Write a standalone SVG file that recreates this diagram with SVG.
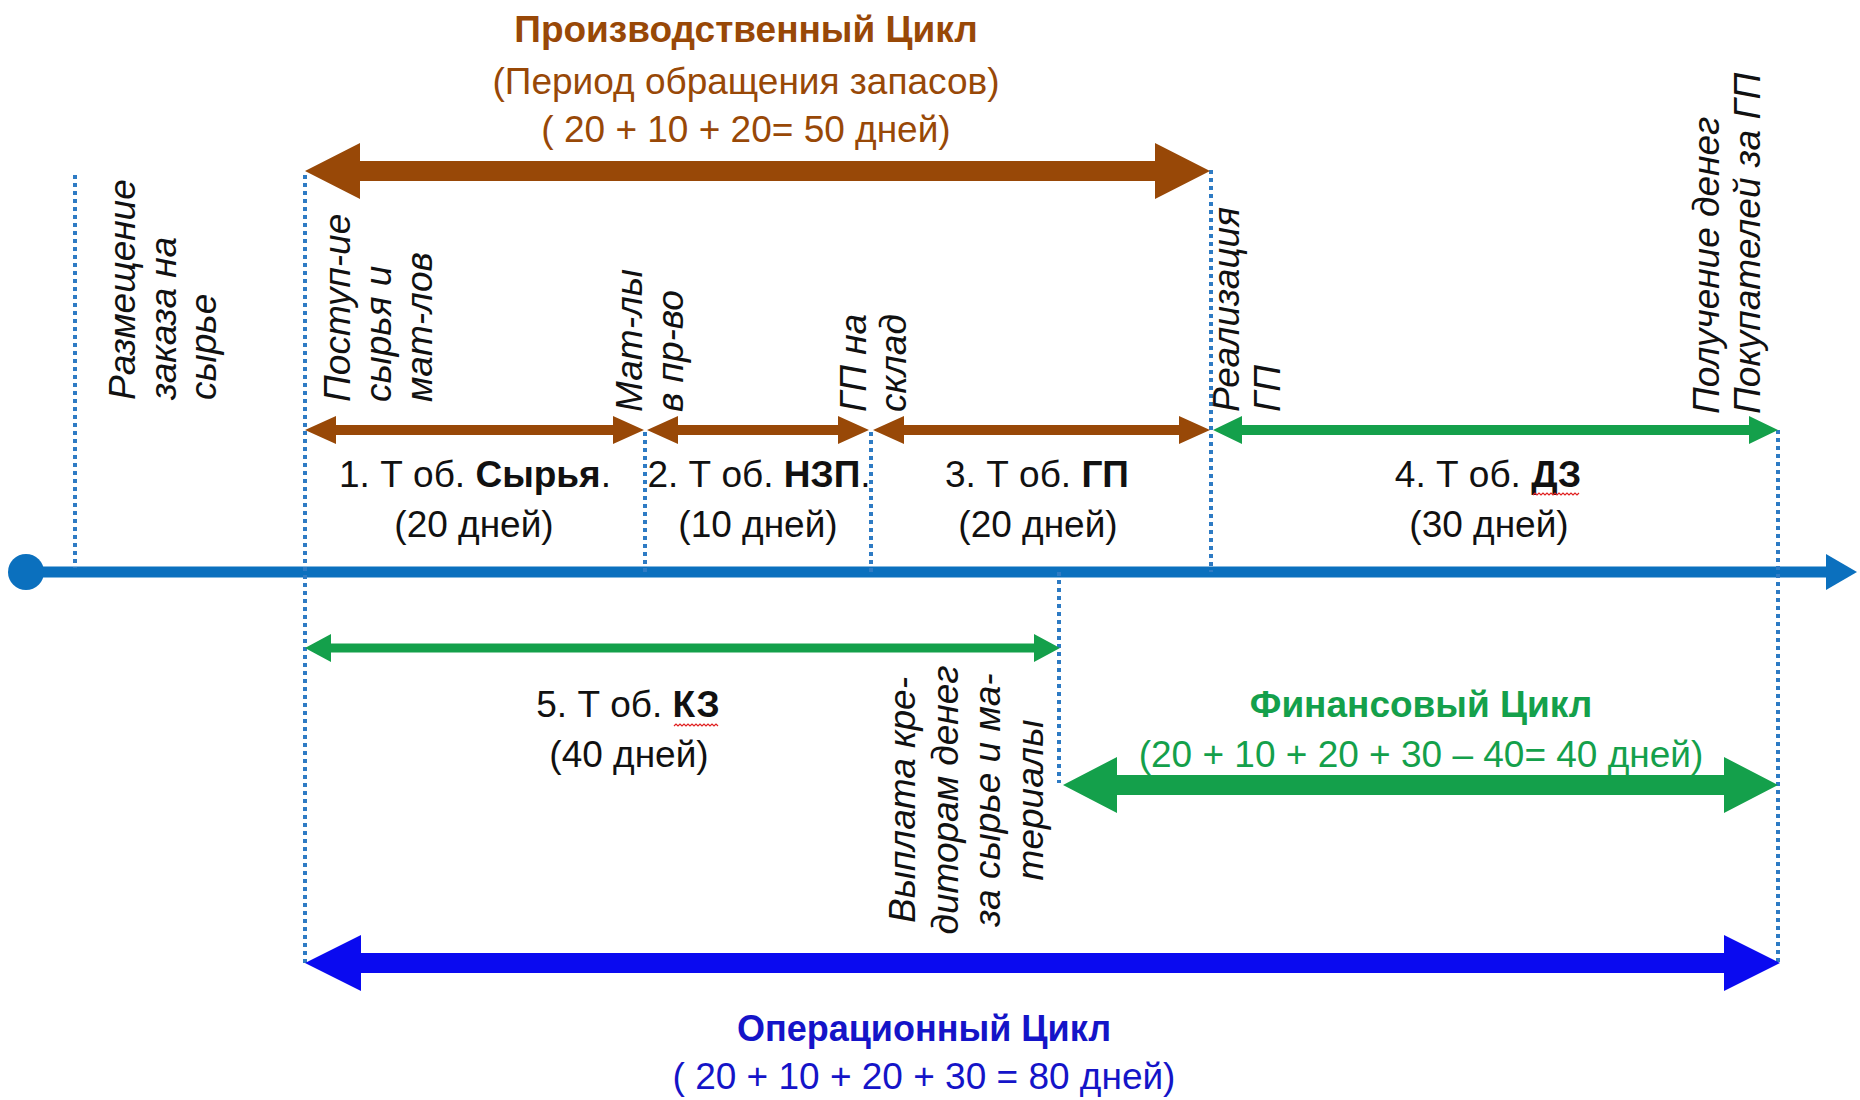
<svg xmlns="http://www.w3.org/2000/svg" width="1860" height="1100" viewBox="0 0 1860 1100">
<style>
  text { font-family: "Liberation Sans", Arial, sans-serif; font-size: 37px; fill: #111; }
  .b { font-weight: bold; }
  .lbl { font-style: italic; }
  .mid { text-anchor: middle; }
  .brownT { fill: #984807; }
  .greenT { fill: #14A04B; }
  .blueT { fill: #1414C8; }
  .dot { stroke: #2E7BC4; stroke-width: 4; stroke-dasharray: 4 4; fill: none; }
  .brown { fill: #984807; }
  .green { fill: #14A04B; }
  .blue { fill: #0A0AF0; }
  .squig { stroke: #E02020; stroke-width: 1.2; fill: none; }
</style>
<rect width="1860" height="1100" fill="#ffffff"/>

<g id="axis">
  <line x1="26" y1="572" x2="1830" y2="572" stroke="#0B70BE" stroke-width="11"/>
  <polygon points="1826,554 1857,572 1826,590" fill="#0B70BE"/>
  <circle cx="26" cy="572" r="18" fill="#0B70BE"/>
</g>

<g id="markers">
  <line class="dot" x1="75" y1="175" x2="75" y2="568"/>
  <line class="dot" x1="305" y1="175" x2="305" y2="963"/>
  <line class="dot" x1="645" y1="432" x2="645" y2="572"/>
  <line class="dot" x1="871" y1="432" x2="871" y2="572"/>
  <line class="dot" x1="1211" y1="170" x2="1211" y2="572"/>
  <line class="dot" x1="1778" y1="430" x2="1778" y2="963"/>
  <line class="dot" x1="1059" y1="572" x2="1059" y2="783"/>
</g>

<g id="connectors">
  <polygon id="arr-prod" class="brown" points="305,171 360,143 360,161 1155,161 1155,143 1210,171 1155,199 1155,181 360,181 360,199"/>
  <polygon id="arr-1" class="brown" points="305,430 336,416 336,425 613,425 613,416 644,430 613,444 613,435 336,435 336,444"/>
  <polygon id="arr-2" class="brown" points="647,430 678,416 678,425 838,425 838,416 869,430 838,444 838,435 678,435 678,444"/>
  <polygon id="arr-3" class="brown" points="873,430 904,416 904,425 1179,425 1179,416 1210,430 1179,444 1179,435 904,435 904,444"/>
  <polygon id="arr-4" class="green" points="1213,430 1242,416 1242,425 1749,425 1749,416 1778,430 1749,444 1749,435 1242,435 1242,444"/>
  <polygon id="arr-5" class="green" points="305,648 331,634 331,643.5 1034,643.5 1034,634 1060,648 1034,662 1034,652.5 331,652.5 331,662"/>
  <polygon id="arr-fin" class="green" points="1063,785 1117,757 1117,775 1724,775 1724,757 1778,785 1724,813 1724,795 1117,795 1117,813"/>
  <polygon id="arr-oper" class="blue" points="305,963 361,935 361,953 1724,953 1724,935 1780,963 1724,991 1724,973 361,973 361,991"/>
</g>

<g id="title-prod">
  <text class="b mid brownT" x="746" y="42">Производственный Цикл</text>
  <text class="mid brownT" x="746" y="94">(Период обращения запасов)</text>
  <text class="mid brownT" x="746" y="142">( 20 + 10 + 20= 50 дней)</text>
</g>

<g id="label-order">
  <text class="lbl" transform="translate(135,400) rotate(-90)"><tspan x="0" y="0">Размещение</tspan><tspan x="0" dy="41">заказа на</tspan><tspan x="0" dy="40">сырье</tspan></text>
</g>
<g id="label-receipt">
  <text class="lbl" transform="translate(350,402) rotate(-90)"><tspan x="0" y="0">Поступ-ие</tspan><tspan x="0" dy="41">сырья и</tspan><tspan x="0" dy="41">мат-лов</tspan></text>
</g>
<g id="label-production">
  <text class="lbl" transform="translate(642,412) rotate(-90)"><tspan x="0" y="0">Мат-лы</tspan><tspan x="0" dy="41">в пр-во</tspan></text>
</g>
<g id="label-warehouse">
  <text class="lbl" transform="translate(866,412) rotate(-90)"><tspan x="0" y="0">ГП на</tspan><tspan x="0" dy="40">склад</tspan></text>
</g>
<g id="label-sale">
  <text class="lbl" transform="translate(1239,412) rotate(-90)"><tspan x="0" y="0">Реализация</tspan><tspan x="0" dy="41">ГП</tspan></text>
</g>
<g id="label-payment-in">
  <text class="lbl" transform="translate(1719,414) rotate(-90)"><tspan x="0" y="0">Получение денег</tspan><tspan x="0" dy="41">Покупателей за ГП</tspan></text>
</g>
<g id="label-payment-out">
  <text class="lbl mid" transform="translate(915,800) rotate(-90)"><tspan x="0" y="0">Выплата кре-</tspan><tspan x="0" dy="43">диторам денег</tspan><tspan x="0" dy="42">за сырье и ма-</tspan><tspan x="0" dy="43">териалы</tspan></text>
</g>

<g id="seg-1">
  <text class="mid" x="475" y="487">1. Т об. <tspan class="b">Сырья</tspan>.</text>
  <text class="mid" x="474" y="537">(20 дней)</text>
</g>
<g id="seg-2">
  <text class="mid" x="759" y="487">2. Т об. <tspan class="b">НЗП</tspan>.</text>
  <text class="mid" x="758" y="537">(10 дней)</text>
</g>
<g id="seg-3">
  <text class="mid" x="1037" y="487">3. Т об. <tspan class="b">ГП</tspan></text>
  <text class="mid" x="1038" y="537">(20 дней)</text>
</g>
<g id="seg-4">
  <text class="mid" x="1488" y="487">4. Т об. <tspan class="b">ДЗ</tspan></text>
  <path class="squig" d="M1533,495 l2,-2 l2,2 l2,-2 l2,2 l2,-2 l2,2 l2,-2 l2,2 l2,-2 l2,2 l2,-2 l2,2 l2,-2 l2,2 l2,-2 l2,2 l2,-2 l2,2 l2,-2 l2,2 l2,-2 l2,2 l2,-2"/>
  <text class="mid" x="1489" y="537">(30 дней)</text>
</g>
<g id="seg-5">
  <text class="mid" x="628" y="717">5. Т об. <tspan class="b">КЗ</tspan></text>
  <path class="squig" d="M674,726 l2,-2 l2,2 l2,-2 l2,2 l2,-2 l2,2 l2,-2 l2,2 l2,-2 l2,2 l2,-2 l2,2 l2,-2 l2,2 l2,-2 l2,2 l2,-2 l2,2 l2,-2 l2,2 l2,-2 l2,2"/>
  <text class="mid" x="629" y="767">(40 дней)</text>
</g>

<g id="title-fin">
  <text class="b mid greenT" x="1421" y="717">Финансовый Цикл</text>
  <text class="mid greenT" x="1421" y="767">(20 + 10 + 20 + 30 – 40= 40 дней)</text>
</g>

<g id="title-oper">
  <text class="b mid blueT" x="924" y="1041" style="font-size:36px">Операционный Цикл</text>
  <text class="mid blueT" x="924" y="1089">( 20 + 10 + 20 + 30 = 80 дней)</text>
</g>
</svg>
